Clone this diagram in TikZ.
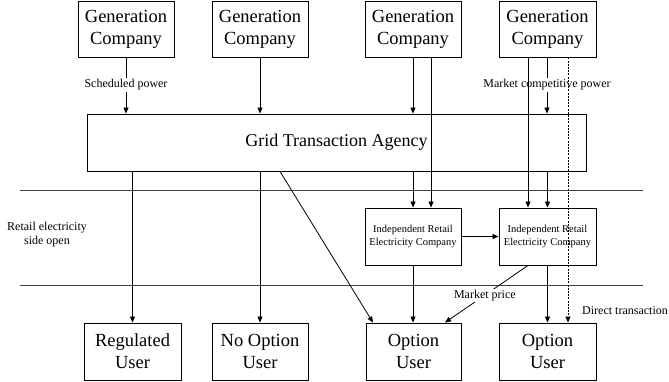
\documentclass[tikz,border=0pt]{standalone}
\usepackage{fontspec}
\setmainfont{Liberation Serif}
\usetikzlibrary{arrows.meta}
\begin{document}
\begin{tikzpicture}[x=1pt,y=-1pt,
  box/.style={draw,line width=0.9pt,inner sep=0pt,align=center,font=\fontsize{18.5}{22}\selectfont},
  smallbox/.style={box,font=\fontsize{10.5}{13.3}\selectfont},
  lbl/.style={inner sep=1pt,align=center,font=\fontsize{12}{14}\selectfont},
  ln/.style={line width=0.8pt},
  arr/.style={ln,-{Triangle[length=6pt,width=5pt]}},
  sep/.style={line width=1pt,black!75}]
\useasboundingbox (0,0) rectangle (669,381);
% top generation companies
\node[box,minimum width=96pt,minimum height=56pt] (g1) at (126,29) {Generation\\Company};
\node[box,minimum width=96pt,minimum height=56pt] (g2) at (260,29) {Generation\\Company};
\node[box,minimum width=96pt,minimum height=56pt] (g3) at (413,29) {Generation\\Company};
\node[box,minimum width=97pt,minimum height=56pt] (g4) at (547.5,29) {Generation\\Company};
% grid
\node[box,minimum width=499pt,minimum height=57pt,font=\fontsize{18}{22}\selectfont] (grid) at (336.5,142.5) {Grid Transaction Agency};
% retail companies
\node[smallbox,minimum width=96pt,minimum height=57pt] (r1) at (413,236.5) {Independent Retail\\Electricity Company};
\node[smallbox,minimum width=97pt,minimum height=57pt] (r2) at (547.5,236.5) {Independent Retail\\Electricity Company};
% users
\node[box,minimum width=97pt,minimum height=57pt] (u1) at (132.5,351.5) {Regulated\\User};
\node[box,minimum width=96pt,minimum height=57pt] (u2) at (260,351.5) {No Option\\User};
\node[box,minimum width=95pt,minimum height=57pt] (u3) at (413.5,351.5) {Option\\User};
\node[box,minimum width=97pt,minimum height=57pt] (u4) at (547.5,351.5) {Option\\User};
% separator lines
\coordinate (s1a) at (20,190); \coordinate (s1b) at (643,190);
\coordinate (s2a) at (20,285); \coordinate (s2b) at (643,285);
\draw[sep] (s1a) -- (s1b);
\draw[sep] (s2a) -- (s2b);
% labels
\node[lbl] (sp) at (126,85) {Scheduled power};
\node[lbl] (mcp) at (547,85) {Market competitive power};
\node[lbl] (rso) at (47,235) {Retail electricity\\side open};
\node[lbl,anchor=west] (dt) at (581,311) {Direct transaction};
% helper x positions
\coordinate (x431) at (431,0);
\coordinate (x528) at (528,0);
\coordinate (x568) at (568,0);
\coordinate (x280) at (280,0);
\coordinate (x373) at (373,0);
\coordinate (x445) at (445,0);
% generation -> grid
\draw[ln] (g1.south) -- (sp.north);
\draw[arr] (sp.south) -- (grid.north -| sp);
\draw[arr] (g2.south) -- (g2.south |- grid.north);
\draw[arr] (g3.south) -- (g3.south |- grid.north);
\draw[ln] (g4.south -| mcp) -- (mcp.north);
\draw[arr] (mcp.south) -- (grid.north -| mcp);
% generation -> retail directly
\draw[arr] (g3.south -| x431) -- (r1.north -| x431);
\draw[arr] (g4.south -| x528) -- (r2.north -| x528);
% direct transaction (dashed)
\draw[arr,dashed,dash pattern=on 2pt off 1.2pt] (g4.south -| x568) -- (u4.north -| x568);
% grid -> users / retail
\draw[arr] (grid.south -| u1) -- (u1.north);
\draw[arr] (grid.south -| u2) -- (u2.north);
\draw[arr] (grid.south -| r1) -- (r1.north);
\draw[arr] (grid.south -| r2) -- (r2.north);
\draw[arr] (grid.south -| x280) -- (u3.north -| x373);
% retail
\draw[arr] (r1.east) -- (r2.west);
\draw[arr] (r1.south) -- (u3.north -| r1);
\draw[arr] (r2.south) -- (u4.north -| r2);
\draw[arr] (r2.south -| x528) -- node[lbl,fill=white,pos=0.52,inner sep=1pt] (mp) {Market price} (u3.north -| x445);
\end{tikzpicture}
\end{document}
